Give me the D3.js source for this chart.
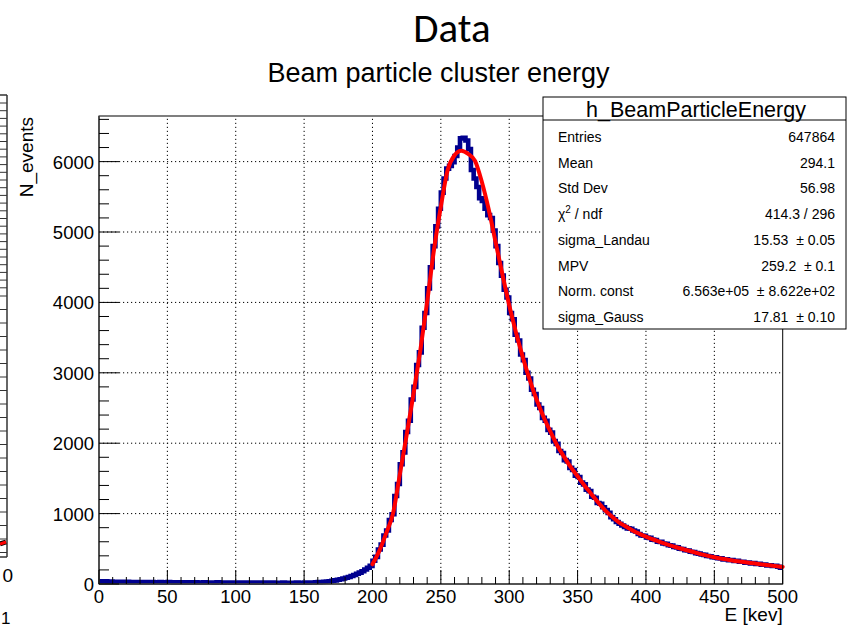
<!DOCTYPE html>
<html><head><meta charset="utf-8">
<script src="https://cdn.jsdelivr.net/npm/d3@7/dist/d3.min.js"></script>
<style>
body{margin:0;background:#fff}
svg{display:block}
text{font-family:"Liberation Sans",Arial,Helvetica,sans-serif;fill:#000}
</style>
</head><body>
<svg id="c" width="848" height="630"></svg>
<script>
// ---------------- data ----------------
const binEdges = d3.range(0, 502, 2);          // 2 keV bins, 0..500
const counts = [
  // 0-100
  40,36,38,34,35, 31,33,29,30,28, 30,27,29,26,28, 26,25,27,24,26, 25,24,26,23,24,
  26,24,23,25,22, 24,22,23,25,21, 24,22,21,23,22, 21,22,20,23,21, 20,22,21,19,22,
  // 100-200
  20,19,21,20,18, 20,19,18,20,19, 18,19,17,20,18, 17,18,19,17,18, 18,17,19,18,17,
  19,20,21,22,24, 26,29,32,36,40, 46,52,60,68,78, 88,100,114,128,145, 162,182,205,230,258,
  // 200-300
  330,385,490,560,690, 760,910,990,1250,1420, 1700,1870,2160,2320,2620, 2800,3110,3290,3640,3850,
  4200,4500,4800,5080,5330, 5560,5760,5900,5940,5990, 6080,6200,6330,6340,6300, 6180,5880,5760,5640,5480,
  5440,5330,5240,5200,5020, 4800,4560,4380,4180,4070,
  // 300-400
  3850,3760,3540,3460,3260, 3180,3000,2920,2760,2700, 2550,2500,2360,2320,2190, 2150,2030,1990,1890,1860,
  1760,1740,1650,1620,1540, 1520,1440,1415,1340,1320, 1240,1225,1150,1140,1090, 1050,1010,950,920,880,
  855,830,810,790,785, 760,745,710,690,685,
  // 400-500
  660,655,630,625,600, 598,575,570,550,545, 525,520,500,498,480, 476,458,455,438,432,
  418,414,398,395,380, 378,366,364,350,352, 338,340,326,328,315, 316,303,306,293,296,
  284,286,275,276,264, 266,255,257,246,232
];
const fitE = [200,205,210,215,220,225,230,235,240,245,250,255,260,265,270,275,280,285,290,295,300,305,310,315,320,325,330,335,340,345,350,355,360,365,370,375,380,385,390,395,400,410,420,430,440,450,460,470,480,490,500];
const fitN = [280,470,720,1000,1555,2118,2700,3320,4010,4750,5360,5880,6090,6155,6110,6010,5710,5320,4860,4400,3960,3570,3220,2900,2620,2380,2170,1970,1810,1660,1530,1400,1280,1160,1050,960,880,820,765,715,672,600,535,480,425,379,345,315,290,265,243];
const xTicks = [0,50,100,150,200,250,300,350,400,450,500];
const yTicks = [0,1000,2000,3000,4000,5000,6000];
const statsTitle = "h_BeamParticleEnergy";
const statsLabels = ["Entries","Mean","Std Dev","CHI","sigma_Landau","MPV","Norm. const","sigma_Gauss"];
const statsValues = ["647864","294.1","56.98","414.3 / 296","15.53  \u00b1 0.05","259.2  \u00b1 0.1","6.563e+05  \u00b1 8.622e+02","17.81  \u00b1 0.10"];
const slideTitle = "Data";
const plotTitle = "Beam particle cluster energy";
const xTitle = "E [kev]";
const yTitle = "N_events";

// ---------------- layout ----------------
const svg = d3.select("#c");
const L = 99, R = 782.7, T = 116, B = 584;
const yMax = 6648;
const x = d3.scaleLinear().domain([0, 500]).range([L, R]);
const y = d3.scaleLinear().domain([0, yMax]).range([B, T]);

// slide title
svg.append("text").attr("x", 452).attr("y", 42).attr("text-anchor", "middle")
  .style("font-family", "Carlito, Calibri, Lato, sans-serif").style("font-size", "41px").text(slideTitle);

// partial neighbouring chart at the left edge
const lp = svg.append("g");
lp.append("line").attr("x1", 7).attr("x2", 7).attr("y1", 95).attr("y2", 557).attr("stroke", "#333").attr("stroke-width", 1.5);
lp.append("line").attr("x1", 0).attr("x2", 7).attr("y1", 95).attr("y2", 95).attr("stroke", "#333").attr("stroke-width", 1.5);
lp.append("line").attr("x1", 0).attr("x2", 7).attr("y1", 557).attr("y2", 557).attr("stroke", "#333").attr("stroke-width", 1.5);
const lpTicks = d3.range(103, 290, 7.7).concat(d3.range(296, 556, 13.5));
lp.selectAll("line.t").data(lpTicks).join("line").attr("class", "t")
  .attr("x1", 0).attr("x2", 7).attr("y1", d => d).attr("y2", d => d).attr("stroke", "#333").attr("stroke-width", 1);
lp.append("line").attr("x1", 0).attr("x2", 6).attr("y1", 544).attr("y2", 542).attr("stroke", "#000").attr("stroke-width", 5);
lp.append("line").attr("x1", 0).attr("x2", 6).attr("y1", 544).attr("y2", 542).attr("stroke", "red").attr("stroke-width", 3);
lp.append("text").attr("x", 13).attr("y", 582).attr("text-anchor", "end").style("font-size", "19px").text("0");
lp.append("text").attr("x", 1).attr("y", 624).style("font-size", "17px").text("1");

// plot title
svg.append("text").attr("x", 438.5).attr("y", 82).attr("text-anchor", "middle").style("font-size", "27px").text(plotTitle);

// grid
const grid = svg.append("g").attr("stroke", "#000").attr("stroke-width", 1).attr("stroke-dasharray", "1.2,2.8");
grid.selectAll("line.gx").data(xTicks.slice(1, -1)).join("line").attr("class", "gx")
  .attr("x1", d => x(d)).attr("x2", d => x(d)).attr("y1", B).attr("y2", T);
grid.selectAll("line.gy").data(yTicks.slice(1)).join("line").attr("class", "gy")
  .attr("x1", L).attr("x2", R).attr("y1", d => y(d)).attr("y2", d => y(d));

// histogram (step outline)
let p = "";
counts.forEach((c, i) => {
  const x0 = x(binEdges[i]), x1 = x(binEdges[i + 1]), yy = y(c);
  p += (i === 0 ? `M${x0},${yy}` : `V${yy}`) + `H${x1}`;
});
svg.append("path").attr("d", p).attr("fill", "none").attr("stroke", "#00008f")
  .attr("stroke-width", 4.6).attr("stroke-linejoin", "miter");

// fit curve
const line = d3.line().x((d, i) => x(fitE[i])).y(d => y(d)).curve(d3.curveMonotoneX);
svg.append("path").attr("d", line(fitN)).attr("fill", "none").attr("stroke", "#ff0000")
  .attr("stroke-width", 4).attr("stroke-linecap", "round");

// frame
svg.append("rect").attr("x", L).attr("y", T).attr("width", R - L).attr("height", B - T)
  .attr("fill", "none").attr("stroke", "#000").attr("stroke-width", 1);
svg.append("line").attr("x1", L).attr("x2", L).attr("y1", T).attr("y2", B).attr("stroke", "#444").attr("stroke-width", 1.6);
svg.append("line").attr("x1", L).attr("x2", R).attr("y1", B).attr("y2", B).attr("stroke", "#444").attr("stroke-width", 1.6);

// x axis ticks (inside, ROOT style)
const xMinor = d3.range(0, 501, 10);
svg.append("g").selectAll("line").data(xMinor).join("line")
  .attr("x1", d => x(d)).attr("x2", d => x(d)).attr("y1", B)
  .attr("y2", d => (d % 50 === 0 ? B - 14 : B - 7)).attr("stroke", "#000").attr("stroke-width", 1);
svg.append("g").selectAll("text").data(xTicks).join("text")
  .attr("x", d => x(d)).attr("y", 603).attr("text-anchor", "middle").style("font-size", "18.5px").text(d => d);

// y axis ticks
const yMinor = d3.range(0, yMax, 200);
svg.append("g").selectAll("line").data(yMinor).join("line")
  .attr("x1", L).attr("x2", d => (d % 1000 === 0 ? L + 20 : L + 10))
  .attr("y1", d => y(d)).attr("y2", d => y(d)).attr("stroke", "#000").attr("stroke-width", 1);
svg.append("g").selectAll("text").data(yTicks).join("text")
  .attr("x", 94).attr("y", d => y(d) + 7).attr("text-anchor", "end").style("font-size", "18.5px").text(d => d);

// axis titles
svg.append("text").attr("x", R).attr("y", 621).attr("text-anchor", "end").style("font-size", "19px").text(xTitle);
svg.append("text").attr("transform", "translate(33,117) rotate(-90)").attr("text-anchor", "end")
  .style("font-size", "19px").text(yTitle);

// stats box
const sb = svg.append("g");
const bx = 543, by = 97, bw = 303, bh = 232;
sb.append("rect").attr("x", bx).attr("y", by).attr("width", bw).attr("height", bh)
  .attr("fill", "#fff").attr("stroke", "#000").attr("stroke-width", 1);
sb.append("line").attr("x1", bx).attr("x2", bx + bw).attr("y1", 120).attr("y2", 120).attr("stroke", "#000");
sb.append("text").attr("x", 696).attr("y", 117).attr("text-anchor", "middle").style("font-size", "21.5px").text(statsTitle);
statsLabels.forEach((lab, i) => {
  const yy = 142 + i * 25.7;
  const t = sb.append("text").attr("x", 558).attr("y", yy).style("font-size", "14px");
  if (lab === "CHI") {
    t.append("tspan").text("\u03c7");
    t.append("tspan").attr("dy", -6).style("font-size", "10px").text("2");
    t.append("tspan").attr("dy", 6).text(" / ndf");
  } else t.text(lab);
  sb.append("text").attr("x", 835).attr("y", yy).attr("text-anchor", "end")
    .style("font-size", "14px").style("white-space", "pre").text(statsValues[i]);
});
</script>
</body></html>
